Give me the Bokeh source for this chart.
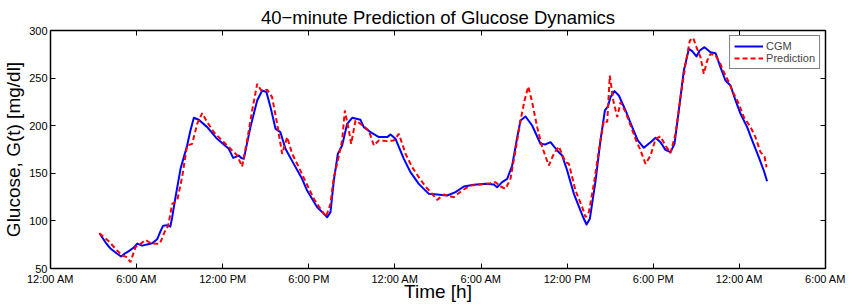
from bokeh.plotting import figure
from bokeh.models import (Range1d, FixedTicker, LinearAxis, Legend,
                          LegendItem, CustomJSTickFormatter)
from bokeh.embed import file_html
from bokeh.resources import INLINE

FONT = "Liberation Sans"

# ---- data -------------------------------------------------------------
x_ticks = [0, 6, 12, 18, 24, 30, 36, 42, 48, 54]
x_tick_labels = ["12:00 AM", "6:00 AM", "12:00 PM", "6:00 PM", "12:00 AM",
                 "6:00 AM", "12:00 PM", "6:00 PM", "12:00 AM", "6:00 AM"]
y_ticks = [50, 100, 150, 200, 250, 300]

t_cgm = [3.41, 3.9, 4.2, 4.6, 4.92, 5.2, 5.46, 5.8, 6.04, 6.39, 6.8, 7.08, 7.43,
         7.66, 7.85, 8.15, 8.35, 8.48, 8.71, 9.06, 9.52, 9.75, 9.99, 10.33, 10.92,
         11.61, 12.42, 12.73, 12.95, 13.12, 13.3, 13.47, 13.93, 14.40, 14.75, 15.05,
         15.33, 15.68, 16.02, 16.37, 16.95, 17.53, 17.88, 18.58, 19.05, 19.28, 19.51,
         19.74, 20.02, 20.32, 20.67, 21.02, 21.60, 21.83, 22.30, 22.88, 23.46, 23.69,
         24.04, 24.62, 25.08, 25.66, 26.36, 26.94, 27.64, 28.22, 28.80, 29.50, 30.31,
         30.89, 31.12, 31.47, 31.82, 32.17, 32.52, 32.75, 33.10, 33.56, 34.14, 34.49,
         34.84, 35.30, 35.65, 36.00, 36.47, 36.93, 37.16, 37.35, 37.58, 37.98, 38.32,
         38.63, 38.84, 39.02, 39.30, 39.60, 40.07, 40.53, 40.92, 41.34, 41.81, 42.16,
         42.50, 42.85, 43.20, 43.48, 43.78, 44.13, 44.48, 44.71, 45.01, 45.24, 45.57,
         45.99, 46.34, 46.68, 47.03, 47.38, 47.73, 48.08, 48.54, 48.89, 49.35, 49.70,
         49.93]
g_cgm = [87.1, 76, 70.7, 66, 62.6, 66, 68.2, 72, 76.2, 74.0, 75.5, 76.6, 80.7,
         89, 95, 95.5, 94, 103.9, 124.9, 154.7, 179.2, 195, 208.3, 206.2, 198.5,
         186.2, 175.7, 166.2, 167.5, 168.7, 166, 165.2, 198.5, 226.5, 237.0, 235.2,
         219.5, 196.7, 193.2, 175.7, 159.9, 144.2, 131.9, 114.4, 107.4, 103.9, 109.2,
         142.4, 170.4, 179.2, 202.0, 208.3, 206.2, 198.5, 193.2, 188.0, 188.0, 190.8,
         186.2, 165.2, 151.2, 138.9, 128.4, 127.7, 126.7, 130.2, 136.1, 137.9, 138.9,
         138.2, 135.4, 140.7, 144.2, 158.2, 188.0, 205.5, 209.7, 200.2, 181.0, 180.3,
         182.7, 174.0, 168.7, 152.9, 128.4, 110.9, 102.2, 96.2, 102.2, 142.4, 184.5,
         216.0, 220.2, 230.0, 236.3, 231.7, 216.0, 198.5, 184.5, 176.8, 182.7, 187.3,
         182.7, 174.6, 172.2, 181.0, 216.0, 258.0, 280.7, 278.3, 272.7, 279.0, 282.5,
         277.2, 276.2, 261.5, 247.5, 242.2, 226.5, 212.5, 198.5, 184.5, 167.0, 152.9,
         141.7]

t_pred = [3.41, 4.06, 4.64, 4.99, 5.34, 5.57, 5.92, 6.27, 6.62, 6.97, 7.43, 7.62,
          7.94, 8.2, 8.48, 8.83, 9.17, 9.52, 9.87, 10.22, 10.57, 10.92, 11.38, 11.84,
          12.54, 13.01, 13.35, 13.70, 14.05, 14.40, 14.68, 15.10, 15.44, 15.79, 16.14,
          16.49, 16.84, 17.30, 17.88, 18.35, 18.81, 19.2, 19.51, 19.74, 19.97, 20.32,
          20.51, 20.79, 20.95, 21.25, 21.60, 22.18, 22.53, 22.88, 23.46, 23.92, 24.27,
          24.74, 25.20, 25.66, 26.13, 26.59, 26.94, 27.41, 28.10, 28.68, 29.26, 29.96,
          30.66, 31.01, 31.36, 31.71, 32.05, 32.40, 32.75, 33.03, 33.29, 33.56, 33.91,
          34.26, 34.72, 35.07, 35.42, 35.88, 36.12, 36.58, 37.05, 37.28, 37.51, 37.86,
          38.21, 38.56, 38.79, 38.97, 39.21, 39.49, 39.72, 40.07, 40.42, 40.76, 41.11,
          41.46, 41.81, 42.16, 42.50, 42.85, 43.20, 43.55, 43.90, 44.25, 44.55, 44.78,
          45.01, 45.29, 45.52, 45.76, 45.99, 46.34, 46.68, 46.92, 47.26, 47.61, 47.96,
          48.31, 48.78, 49.12, 49.47, 49.75, 49.89]
g_pred = [87, 78.7, 68.9, 63.7, 61.9, 56.7, 72.4, 75.9, 80.1, 76.6, 75.9, 76,
          88, 95, 117.9, 121.4, 145.9, 179.2, 180.9, 202.0, 213.2, 203.7, 193.2, 186.2,
          175.7, 168.7, 157.1, 184.5, 216.0, 244.0, 237.0, 237.7, 230.0, 202.0, 170.4,
          188.0, 170.4, 156.4, 138, 123.2, 112.7, 104.5, 117.9, 145.9, 159.9, 184.5,
          216.0, 195.0, 180.9, 205.5, 202.0, 195.0, 179.2, 184.5, 183.8, 184.5, 191.5,
          170.4, 156.4, 145.9, 136.1, 128.4, 122.1, 127.7, 124.9, 131.9, 137.2, 138.2,
          139.6, 140.7, 136.1, 133.7, 144.2, 174.0, 205.5, 226.5, 241.2, 224.7, 198.5,
          177.5, 158.2, 170.4, 178.1, 161.7, 160.0, 131.9, 114.4, 103.9, 109.2, 138.9,
          174.0, 205.5, 203.7, 252.7, 226.5, 209.0, 224.7, 214.3, 200.2, 186.2, 174.0,
          160.0, 168.7, 186.2, 188.7, 179.2, 171.2, 191.5, 230.0, 265.0, 289.5, 292.3,
          282.5, 272.0, 254.5, 268.5, 275.5, 273.7, 265.0, 256.2, 245.7, 233.5, 223.0,
          209.0, 198.5, 188.0, 172.2, 167.6, 156.4]

title_text = "40\u2212minute Prediction of Glucose Dynamics"
x_label = "Time [h]"
y_label = "Glucose, G(t) [mg/dl]"

# ---- figure -----------------------------------------------------------
p = figure(width=853, height=307, output_backend="svg", toolbar_location=None,
           x_range=Range1d(0, 54), y_range=Range1d(50, 300),
           min_border_left=50, min_border_right=28, min_border_top=30,
           min_border_bottom=39, x_axis_location=None, y_axis_location=None)
p.xgrid.visible = False
p.ygrid.visible = False
p.outline_line_color = None
p.background_fill_color = "white"
p.border_fill_color = "white"


def style_axis(ax, labels=True):
    ax.axis_line_color = "black"
    ax.axis_line_width = 1.5
    ax.major_tick_in = 5
    ax.major_tick_out = 0
    ax.major_tick_line_color = "black"
    ax.major_tick_line_width = 1
    ax.minor_tick_line_color = None
    ax.major_label_text_font = FONT
    ax.major_label_text_font_size = "11px"
    ax.major_label_text_color = "black"
    ax.axis_label_text_font = FONT
    ax.axis_label_text_font_size = "19px"
    ax.axis_label_text_font_style = "normal"
    ax.axis_label_text_color = "black"
    if not labels:
        ax.formatter = CustomJSTickFormatter(code="return ''")
        ax.major_label_text_font_size = "0px"
        ax.major_label_standoff = 0


xb = LinearAxis(ticker=FixedTicker(ticks=x_ticks), axis_label=x_label)
xb.major_label_overrides = {t: l for t, l in zip(x_ticks, x_tick_labels)}
style_axis(xb)
xb.major_label_standoff = 4
xb.axis_label_standoff = -7
p.add_layout(xb, "below")

# top axis: inward ticks only; the chart title sits above it
xt = LinearAxis(ticker=FixedTicker(ticks=x_ticks), axis_label=title_text)
style_axis(xt, labels=False)
xt.axis_label_text_font_size = "18.5px"
xt.axis_label_standoff = 3
p.add_layout(xt, "above")

yl = LinearAxis(ticker=FixedTicker(ticks=y_ticks), axis_label=y_label)
style_axis(yl)
yl.major_label_standoff = 3
yl.axis_label_standoff = 2
p.add_layout(yl, "left")

yr = LinearAxis(ticker=FixedTicker(ticks=y_ticks))
style_axis(yr, labels=False)
p.add_layout(yr, "right")

r_cgm = p.line(t_cgm, g_cgm, line_color="#0000ff", line_width=2,
               line_join="round")
r_pred = p.line(t_pred, g_pred, line_color="#ff0000", line_width=2,
                line_dash="5 3")

legend = Legend(items=[LegendItem(label="CGM", renderers=[r_cgm]),
                       LegendItem(label="Prediction", renderers=[r_pred])],
                location="top_right")
legend.margin = 5
legend.padding = 4
legend.spacing = 0
legend.glyph_width = 29
legend.glyph_height = 12
legend.label_height = 12
legend.label_standoff = 3
legend.label_text_font = FONT
legend.label_text_font_size = "11px"
legend.border_line_color = "black"
legend.border_line_width = 1.5
legend.background_fill_color = "white"
legend.background_fill_alpha = 1.0
p.add_layout(legend)

open("out.html", "w").write(file_html(p, INLINE))
